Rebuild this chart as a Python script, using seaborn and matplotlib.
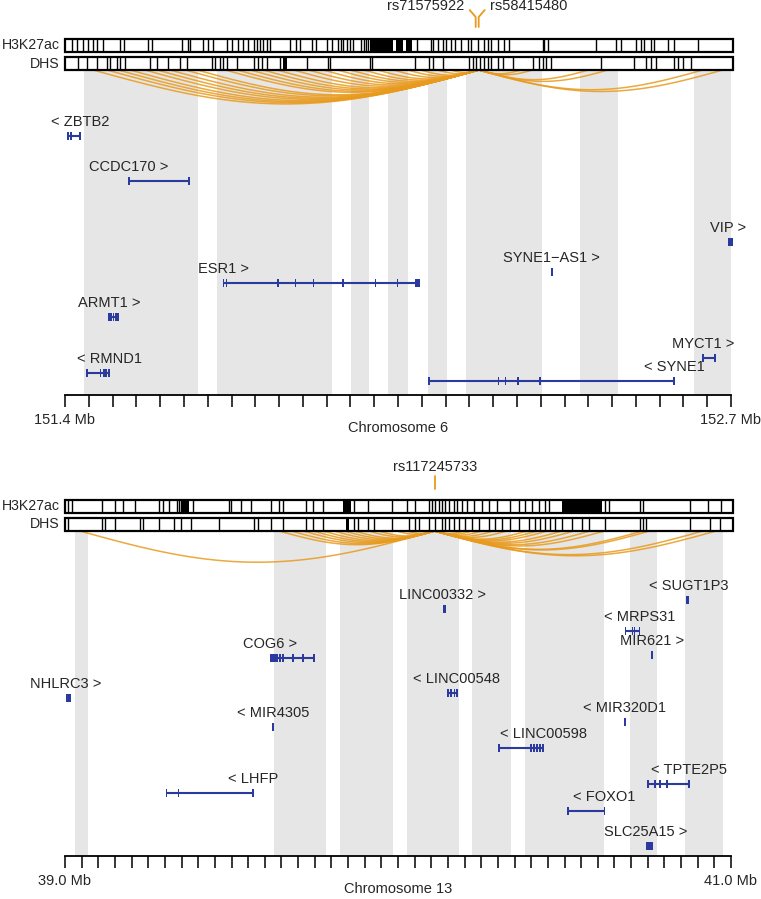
import numpy as np
import pandas as pd
import seaborn as sns
import matplotlib.pyplot as plt
from matplotlib.patches import Rectangle

sns.set_theme(style="white")
plt.rcParams["font.family"] = ["Liberation Sans", "DejaVu Sans"]

W, H = 761, 899
X0, X1 = 65, 731          # pixel span of the genomic axis
AXIS_Y = 395              # axis line, pixels below panel top
FS = 10.5
ORANGE = "#E99A1C"
BLUE = "#2B3A9E"
GREY = "#E6E6E6"

# ---------------- Chromosome 6 ----------------
chr6_range = (151.4, 152.7)
chr6_nticks = 29
chr6_snps = [152.2016, 152.2075]
chr6_snp_names = ["rs71575922", "rs58415480"]
chr6_h3k27ac = [151.414, 151.423, 151.435, 151.445, 151.455, 151.463, 151.474, 151.508, 151.515,
                151.562, 151.570, 151.629, 151.640, 151.644, 151.670, 151.680, 151.689, 151.717,
                151.726, 151.738, 151.748, 151.758, 151.768, 151.775, 151.781, 151.787, 151.795,
                151.801, 151.840, 151.850, 151.859, 151.883, 151.889, 151.912, 151.922, 151.932,
                151.938, 151.943, 151.951, 151.957, 151.963, 151.977, 151.983, 151.988, 151.992,
                152.088, 152.114, 152.119,
                152.129, 152.137, 152.143, 152.153, 152.162, 152.172, 152.186, 152.192, 152.207,
                152.217, 152.225, 152.231, 152.245, 152.256, 152.266, 152.333, 152.335, 152.342,
                152.436, 152.475, 152.485, 152.514, 152.524, 152.530, 152.544, 152.550, 152.577,
                152.589, 152.636]
chr6_h3k27ac_dense = [(151.996, 152.040), (152.046, 152.060), (152.065, 152.078)]
chr6_dhs = [151.425, 151.443, 151.463, 151.482, 151.488, 151.502, 151.508, 151.517, 151.566,
            151.580, 151.601, 151.625, 151.639, 151.687, 151.693, 151.703, 151.709, 151.717,
            151.736, 151.768, 151.777, 151.785, 151.795, 151.820, 151.873, 151.914, 151.918,
            151.996, 152.000, 152.084, 152.110, 152.119, 152.137, 152.188, 152.196, 152.202,
            152.211, 152.217, 152.225, 152.231, 152.245, 152.254, 152.274, 152.313, 152.325,
            152.333, 152.338, 152.348, 152.446, 152.510, 152.534, 152.544, 152.553, 152.589,
            152.596, 152.606, 152.622]
chr6_dhs_dense = [(151.826, 151.834)]
chr6_arc_targets = [151.455, 151.482, 151.504, 151.527, 151.556, 151.580, 151.605, 151.635,
                    151.658, 151.713, 151.736, 151.762, 151.787, 151.814, 151.846, 151.875,
                    151.904, 151.932, 151.957, 151.983, 152.010, 152.041, 152.069, 152.094,
                    152.127, 152.153, 152.290, 152.313, 152.422, 152.460, 152.645, 152.684]
chr6_shaded = [(151.437, 151.660), (151.697, 151.922), (151.959, 151.994), (152.031, 152.069),
               (152.108, 152.145), (152.182, 152.331), (152.405, 152.479), (152.628, 152.702)]
chr6_genes = ["ZBTB2", "CCDC170", "ESR1", "ARMT1", "RMND1", "SYNE1\u2212AS1", "VIP", "MYCT1", "SYNE1"]
chr6_strand = ["-", "+", "+", "+", "-", "+", "+", "+", "-"]
chr6_start = [151.404, 151.525, 151.709, 151.486, 151.443, 152.349, 152.694, 152.645, 152.110]
chr6_end = [151.429, 151.642, 152.092, 151.504, 151.486, 152.351, 152.704, 152.671, 152.589]
chr6_row = [136, 181, 283, 317, 373, 272, 242, 358, 381]
chr6_exons = [
    [(151.404, 151.408), 151.412, 151.429],
    [151.525, 151.642],
    [151.709, 151.715, 151.816, 151.850, 151.885, 151.943, 152.006, 152.049, (152.084, 152.092)],
    [151.486, 151.490, 151.495, 151.500, 151.504],
    [151.443, 151.469, 151.476, 151.480, 151.486],
    [(152.349, 152.351)],
    [(152.694, 152.704)],
    [152.645, (152.666, 152.671)],
    [152.110, 152.246, 152.260, 152.284, 152.327, 152.589],
]

# ---------------- Chromosome 13 ----------------
chr13_range = (39.0, 41.0)
chr13_nticks = 41
chr13_snps = [40.110]
chr13_snp_names = ["rs117245733"]
chr13_h3k27ac = [39.009, 39.021, 39.112, 39.151, 39.175, 39.211, 39.281, 39.293, 39.311, 39.383,
                 39.492, 39.498, 39.528, 39.558, 39.618, 39.643, 39.655, 39.724, 39.745, 39.775,
                 39.869, 39.911, 39.981, 40.026, 40.050, 40.092, 40.101, 40.110, 40.122, 40.131,
                 40.140, 40.153, 40.168, 40.177, 40.192, 40.207, 40.228, 40.252, 40.273, 40.297,
                 40.337, 40.364, 40.382, 40.403, 40.424, 40.442, 40.454, 40.623, 40.635, 40.726,
                 40.735, 40.877, 40.931, 40.970, 39.336, 39.342, 39.347]
chr13_h3k27ac_dense = [(39.352, 39.371), (39.836, 39.860), (40.493, 40.614)]
chr13_dhs = [39.009, 39.112, 39.121, 39.151, 39.226, 39.235, 39.281, 39.326, 39.347, 39.377,
             39.462, 39.567, 39.579, 39.618, 39.655, 39.724, 39.745, 39.775, 39.869, 39.881,
             39.911, 39.929, 39.981, 40.032, 40.050, 40.062, 40.092, 40.110, 40.131, 40.140,
             40.153, 40.168, 40.183, 40.201, 40.222, 40.243, 40.273, 40.291, 40.312, 40.337,
             40.364, 40.394, 40.412, 40.427, 40.442, 40.457, 40.472, 40.493, 40.524, 40.554,
             40.575, 40.623, 40.726, 40.735, 40.744, 40.877, 40.937, 40.967]
chr13_dhs_dense = [(39.845, 39.854)]
chr13_arc_targets = [39.045, 39.643, 39.679, 39.715, 39.745, 39.775, 39.808, 39.839, 39.869,
                     39.911, 39.941, 39.996, 40.026, 40.198, 40.222, 40.252, 40.288, 40.327,
                     40.388, 40.418, 40.448, 40.493, 40.529, 40.578, 40.620, 40.735, 40.756,
                     40.916, 40.955]
chr13_shaded = [(39.030, 39.069), (39.628, 39.784), (39.827, 39.986), (40.026, 40.183),
                (40.222, 40.339), (40.382, 40.620), (40.698, 40.777), (40.861, 40.976)]
chr13_genes = ["NHLRC3", "COG6", "MIR4305", "LHFP", "LINC00332", "LINC00548", "LINC00598",
               "SUGT1P3", "MRPS31", "MIR621", "MIR320D1", "TPTE2P5", "FOXO1", "SLC25A15"]
chr13_strand = ["+", "+", "-", "-", "+", "-", "-", "-", "-", "+", "-", "-", "-", "+"]
chr13_start = [39.003, 39.615, 39.624, 39.305, 40.135, 40.150, 40.303, 40.864, 40.683, 40.762,
               40.680, 40.750, 40.511, 40.744]
chr13_end = [39.018, 39.751, 39.625, 39.564, 40.144, 40.177, 40.436, 40.873, 40.725, 40.763,
             40.681, 40.874, 40.620, 40.765]
chr13_row = [237, 197, 266, 332, 148, 232, 287, 139, 170, 194, 261, 323, 350, 385]
chr13_exons = [
    [(39.003, 39.018)],
    [(39.615, 39.639), 39.645, 39.654, 39.684, 39.714, 39.748],
    [(39.624, 39.625)],
    [39.305, 39.341, 39.564],
    [(40.135, 40.144)],
    [40.150, (40.156, 40.162), 40.170, 40.177],
    [40.303, 40.400, 40.409, 40.418, 40.427, 40.436],
    [(40.864, 40.873)],
    [40.683, 40.704, 40.710, 40.725],
    [(40.762, 40.763)],
    [(40.680, 40.681)],
    [40.750, 40.771, 40.786, 40.807, 40.874],
    [40.511, 40.620],
    [(40.744, 40.765)],
]

fig = plt.figure(figsize=(W / 100, H / 100), dpi=100)


def add_panel(top, xr, nticks, chrom, snps, snp_names, h3, h3_dense, dhs, dhs_dense,
              targets, shaded, names, strands, starts, ends, rows, exons):
    ax = fig.add_axes([X0 / W, 1 - (top + AXIS_Y) / H, (X1 - X0) / W, AXIS_Y / H])
    px = (xr[1] - xr[0]) / (X1 - X0)  # Mb per pixel

    # highlighted regions
    for a, b in shaded:
        ax.add_patch(Rectangle((a, 70), b - a, AXIS_Y - 70, color=GREY, lw=0, zorder=0))

    # interaction arcs
    src = snps[-1]
    t = np.linspace(0, 1, 80)
    frames = []
    for i, tg in enumerate(targets):
        depth = 0.088 * abs(tg - src) / px
        frames.append(pd.DataFrame({"x": src + (tg - src) * t,
                                    "y": 70 + depth * np.sin(np.pi * t), "arc": i}))
    arcs = pd.concat(frames)
    sns.lineplot(data=arcs, x="x", y="y", units="arc", estimator=None, sort=False,
                 color=ORANGE, lw=1.1, alpha=0.85, ax=ax, legend=False, zorder=2)

    # chromatin tracks
    for y0, peaks, dense, label in [(38.5, h3, h3_dense, "H3K27ac"), (57, dhs, dhs_dense, "DHS")]:
        ax.add_patch(Rectangle((xr[0], y0), xr[1] - xr[0] + 2 * px, 13, facecolor="white",
                               edgecolor="black", lw=1.6, zorder=3, clip_on=False))
        ax.vlines(peaks, y0, y0 + 13, color="black", lw=1.0, zorder=4)
        for a, b in dense:
            ax.add_patch(Rectangle((a, y0), b - a, 13, color="black", lw=0, zorder=4))
        ax.text(xr[0] - 5 * px, y0 + 6.5, label, ha="right", va="center", fontsize=10.2,
                clip_on=False)

    # SNP markers
    if len(snps) == 1:
        ax.plot([snps[0], snps[0]], [15, 28], color=ORANGE, lw=1.3, clip_on=False)
        ax.text(snps[0], 6, snp_names[0], ha="center", va="center", fontsize=FS, clip_on=False)
    else:
        for s, name, side in zip(snps, snp_names, [-1, 1]):
            ax.plot([s + side * 6 * px, s, s], [10, 17, 27], color=ORANGE, lw=1.3, clip_on=False)
            ax.text(s + side * 11 * px, 6, name, ha="right" if side < 0 else "left",
                    va="center", fontsize=FS, clip_on=False)

    # genes
    for name, st, a, b, r, ex in zip(names, strands, starts, ends, rows, exons):
        ax.plot([a, b], [r, r], color=BLUE, lw=1.5, solid_capstyle="butt", zorder=5)
        for e in ex:
            if isinstance(e, tuple):
                lo, hi = e
                wdt = max(hi - lo, 2 * px)
                lo = (lo + hi) / 2 - wdt / 2
            else:
                wdt = 1.6 * px
                lo = e - wdt / 2
            ax.add_patch(Rectangle((lo, r - 4), wdt, 8, color=BLUE, lw=0, zorder=5, clip_on=False))
        tss = a if st == "+" else b
        label = f"{name} >" if st == "+" else f"< {name}"
        ax.text(tss, r - 14, label, ha="center", va="center", fontsize=FS, clip_on=False)

    # axis
    ax.set_xlim(*xr)
    ax.set_ylim(AXIS_Y, 0)
    ax.set_xlabel("")
    ax.set_ylabel("")
    ticks = np.linspace(xr[0], xr[1], nticks)
    labels = [""] * nticks
    labels[0] = f"{xr[0]:.1f} Mb"
    labels[-1] = f"{xr[1]:.1f} Mb"
    ax.set_xticks(ticks)
    ax.set_xticklabels(labels, fontsize=FS)
    ax.set_yticks([])
    ax.tick_params(axis="x", bottom=True, direction="out", length=8.6, width=1.1,
                   color="black", pad=4.5)
    for sp in ["top", "left", "right"]:
        ax.spines[sp].set_visible(False)
    ax.spines["bottom"].set_color("black")
    ax.spines["bottom"].set_linewidth(1.3)
    ax.patch.set_alpha(0)
    ax.text(np.mean(xr), 428, chrom, ha="center", va="center", fontsize=FS, clip_on=False)
    return ax


add_panel(0, chr6_range, chr6_nticks, "Chromosome 6", chr6_snps, chr6_snp_names,
          chr6_h3k27ac, chr6_h3k27ac_dense, chr6_dhs, chr6_dhs_dense, chr6_arc_targets,
          chr6_shaded, chr6_genes, chr6_strand, chr6_start, chr6_end, chr6_row, chr6_exons)
add_panel(461, chr13_range, chr13_nticks, "Chromosome 13", chr13_snps, chr13_snp_names,
          chr13_h3k27ac, chr13_h3k27ac_dense, chr13_dhs, chr13_dhs_dense, chr13_arc_targets,
          chr13_shaded, chr13_genes, chr13_strand, chr13_start, chr13_end, chr13_row, chr13_exons)

fig.savefig("out.png", dpi=100)
